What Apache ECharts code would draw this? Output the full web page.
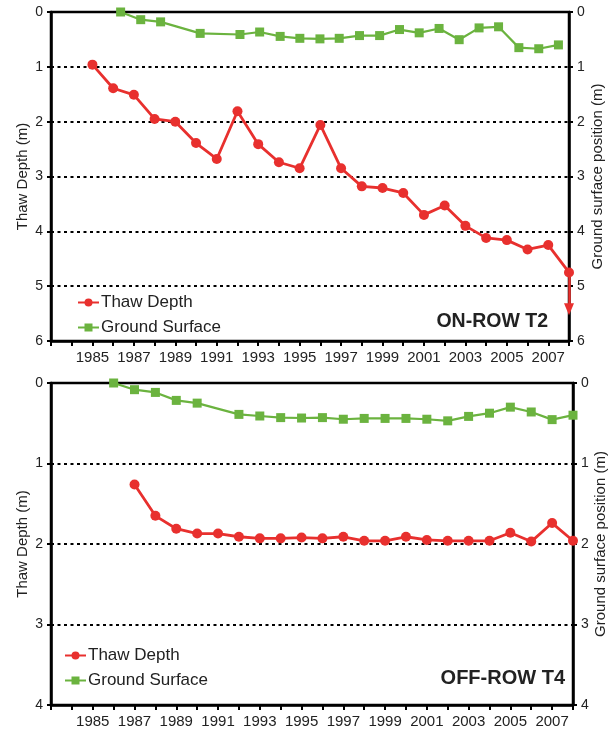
<!DOCTYPE html>
<html>
<head>
<meta charset="utf-8">
<script src="https://cdn.jsdelivr.net/npm/echarts@6/dist/echarts.min.js"></script>
<style>
html,body{margin:0;padding:0;background:#fff;}
#c{width:616px;height:729px;}
</style>
</head>
<body>
<div id="c"></div>
<script>
// ---------- DATA ----------
const xTickLabels = ['1985','1987','1989','1991','1993','1995','1997','1999','2001','2003','2005','2007'];

// ON-ROW T2
const t2ThawYears = [1985,1986,1987,1988,1989,1990,1991,1992,1993,1994,1995,1996,1997,1998,1999,2000,2001,2002,2003,2004,2005,2006,2007,2008];
const t2ThawDepth = [0.96,1.39,1.51,1.95,2.0,2.39,2.68,1.81,2.41,2.74,2.85,2.06,2.85,3.18,3.21,3.30,3.70,3.53,3.90,4.12,4.16,4.33,4.25,4.75];
const t2GroundYears = [1986.36,1987.33,1988.29,1990.2,1992.12,1993.07,1994.06,1995.01,1995.98,1996.91,1997.89,1998.86,1999.82,2000.77,2001.73,2002.7,2003.66,2004.6,2005.58,2006.54,2007.49];
const t2GroundSurface = [0.0,0.14,0.18,0.39,0.41,0.365,0.445,0.48,0.49,0.48,0.43,0.43,0.32,0.38,0.30,0.505,0.29,0.27,0.65,0.67,0.60];
const t2ArrowYear = 2008;
const t2ArrowFrom = 4.75;
const t2ArrowTo = 5.42;

// OFF-ROW T4
const t4ThawYears = [1987,1988,1989,1990,1991,1992,1993,1994,1995,1996,1997,1998,1999,2000,2001,2002,2003,2004,2005,2006,2007,2008];
const t4ThawDepth = [1.26,1.65,1.81,1.87,1.87,1.91,1.93,1.93,1.92,1.93,1.91,1.96,1.96,1.91,1.95,1.96,1.96,1.96,1.86,1.97,1.74,1.96];
const t4GroundYears = [1986,1987,1988,1989,1990,1992,1993,1994,1995,1996,1997,1998,1999,2000,2001,2002,2003,2004,2005,2006,2007,2008];
const t4GroundSurface = [0.0,0.083,0.117,0.216,0.25,0.39,0.41,0.43,0.435,0.43,0.45,0.44,0.44,0.44,0.45,0.47,0.415,0.375,0.30,0.36,0.455,0.40];

const xMin = 1983, xMax = 2008;
const titles = ['ON-ROW T2', 'OFF-ROW T4'];
const seriesNames = ['Thaw Depth', 'Ground Surface'];
const yAxisNames = ['Thaw Depth (m)', 'Ground surface position (m)'];

// ---------- STYLE ----------
const RED = '#E8302E';
const GREEN = '#6BB33F';
const FONT = 'Liberation Sans, Arial, sans-serif';
const TXT = '#222';

function pairs(xs, ys) { return xs.map((x, i) => [x, ys[i]]); }

function xAxisFor(gi) {
  return {
    type: 'value', gridIndex: gi, min: xMin, max: xMax, interval: 1, position: 'bottom',
    axisLine: { show: true, onZero: false, lineStyle: { color: '#000', width: 2.5 } },
    axisTick: { show: true, length: 5, lineStyle: { color: '#000', width: 2 } },
    axisLabel: {
      color: TXT, fontSize: 15, fontFamily: FONT, margin: 9,
      formatter: v => xTickLabels.includes(String(v)) ? String(v) : ''
    },
    splitLine: { show: false }
  };
}

function yAxesFor(gi, max, leftGap, rightGap) {
  const common = {
    type: 'value', gridIndex: gi, min: 0, max: max, interval: 1, inverse: true,
    axisLine: { show: true, onZero: false, lineStyle: { color: '#000', width: 2.5 } },
    axisTick: { show: true, length: 4, lineStyle: { color: '#000', width: 2 } },
    axisLabel: { color: TXT, fontSize: 14, fontFamily: FONT, margin: 8 },
    nameLocation: 'middle', nameRotate: 90, nameMoveOverlap: false,
    nameTextStyle: { color: TXT, fontSize: 15, fontFamily: FONT }
  };
  return [
    Object.assign({}, common, {
      position: 'left', name: yAxisNames[0], nameGap: leftGap,
      splitLine: {
        show: true,
        lineStyle: { color: '#000', width: 2, type: [3, 3.5] }
      }
    }),
    Object.assign({}, common, {
      position: 'right', name: yAxisNames[1], nameGap: rightGap,
      splitLine: { show: false }
    })
  ];
}

const chart = echarts.init(document.getElementById('c'), null, { renderer: 'canvas' });

const ys0 = yAxesFor(0, 6, 21, 21);
const ys1 = yAxesFor(1, 4, 21, 20);

const option = {
  backgroundColor: '#fff',
  animation: false,
  grid: [
    { left: 51, right: 47, top: 12, height: 329, show: true, borderColor: '#000', borderWidth: 2.5, backgroundColor: 'transparent' },
    { left: 51, right: 42, top: 383, height: 322, show: true, borderColor: '#000', borderWidth: 2.5, backgroundColor: 'transparent' }
  ],
  xAxis: [xAxisFor(0), xAxisFor(1)],
  yAxis: ys0.concat(ys1),
  title: [
    { text: titles[0], right: 63, top: 307, textStyle: { fontSize: 19.5, fontWeight: 'bold', color: TXT, fontFamily: FONT } },
    { text: titles[1], right: 46, top: 663, textStyle: { fontSize: 20, fontWeight: 'bold', color: TXT, fontFamily: FONT } }
  ],
  legend: [
    {
      left: 72, top: 289, orient: 'vertical', itemWidth: 21, itemHeight: 10, itemGap: 8,
      data: seriesNames,
      textStyle: { fontSize: 17, color: TXT, fontFamily: FONT, padding: [0, 0, 0, -3] }
    },
    {
      left: 59, top: 642, orient: 'vertical', itemWidth: 21, itemHeight: 10, itemGap: 8,
      data: seriesNames,
      textStyle: { fontSize: 17, color: TXT, fontFamily: FONT, padding: [0, 0, 0, -3] }
    }
  ],
  series: [
    {
      name: seriesNames[0], type: 'line', xAxisIndex: 0, yAxisIndex: 0,
      data: pairs(t2ThawYears, t2ThawDepth),
      symbol: 'circle', symbolSize: 10,
      lineStyle: { color: RED, width: 2.8 }, itemStyle: { color: RED },
      markLine: {
        silent: true, symbol: ['none', 'triangle'], symbolSize: [10, 12], symbolRotate: 180,
        label: { show: false },
        lineStyle: { color: RED, width: 2.5, type: 'solid' },
        data: [[{ coord: [t2ArrowYear, t2ArrowFrom] }, { coord: [t2ArrowYear, t2ArrowTo] }]]
      }
    },
    {
      name: seriesNames[1], type: 'line', xAxisIndex: 0, yAxisIndex: 0,
      data: pairs(t2GroundYears, t2GroundSurface),
      symbol: 'rect', symbolSize: 9,
      lineStyle: { color: GREEN, width: 2.2 }, itemStyle: { color: GREEN }
    },
    {
      name: seriesNames[0], type: 'line', xAxisIndex: 1, yAxisIndex: 2,
      data: pairs(t4ThawYears, t4ThawDepth),
      symbol: 'circle', symbolSize: 10,
      lineStyle: { color: RED, width: 2.8 }, itemStyle: { color: RED }
    },
    {
      name: seriesNames[1], type: 'line', xAxisIndex: 1, yAxisIndex: 2,
      data: pairs(t4GroundYears, t4GroundSurface),
      symbol: 'rect', symbolSize: 9,
      lineStyle: { color: GREEN, width: 2.2 }, itemStyle: { color: GREEN }
    }
  ]
};

chart.setOption(option);
</script>
</body>
</html>
